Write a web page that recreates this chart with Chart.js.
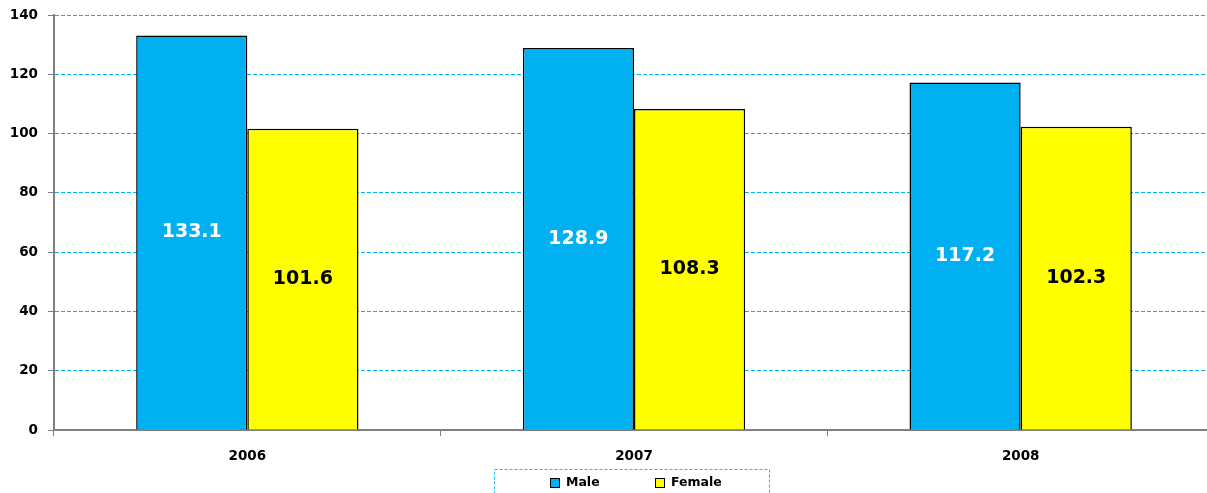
<!DOCTYPE html>
<html>
<head>
<meta charset="utf-8">
<script src="https://cdn.jsdelivr.net/npm/chart.js@4.4.0/dist/chart.umd.min.js"></script>
<style>
  html, body { margin: 0; padding: 0; background: #fff; overflow: hidden; }
  #wrap { width: 1207px; height: 493px; overflow: hidden; }
  #box { width: 1214px; height: 493px; }
</style>
</head>
<body>
<div id="wrap"><div id="box"><canvas id="rateChart"></canvas></div></div>
<script>
const years = ['2006', '2007', '2008'];
const maleValues = [133.1, 128.9, 117.2];
const femaleValues = [101.6, 108.3, 102.3];
const seriesNames = ['Male', 'Female'];

const FONT = 'DejaVu Sans';

// value labels in the middle of each bar
const barValueLabels = {
    id: 'barValueLabels',
    afterDatasetsDraw(chart) {
        const ctx = chart.ctx;
        ctx.save();
        ctx.font = 'bold 19px "' + FONT + '"';
        ctx.textAlign = 'center';
        ctx.textBaseline = 'middle';
        chart.data.datasets.forEach((ds, i) => {
            chart.getDatasetMeta(i).data.forEach((bar, j) => {
                const p = bar.getProps(['x', 'y', 'base'], true);
                ctx.fillStyle = i === 0 ? '#ffffff' : '#000000';
                ctx.fillText(ds.data[j].toFixed(1), p.x, (p.y + p.base) / 2);
            });
        });
        ctx.restore();
    }
};

// legend with a dashed frame, under the axis labels
const framedLegend = {
    id: 'framedLegend',
    afterDraw(chart) {
        const ctx = chart.ctx;
        const cx = (chart.chartArea.left + chart.chartArea.right) / 2 - 2;
        ctx.save();
        ctx.strokeStyle = '#1cb8f0';
        ctx.lineWidth = 1;
        ctx.setLineDash([3, 2]);
        ctx.strokeRect(cx - 137.5, 469.5, 275, 40);
        ctx.setLineDash([]);
        ctx.font = 'bold 12.5px "' + FONT + '"';
        ctx.textBaseline = 'middle';
        const offsets = [-82, 23];
        chart.data.datasets.forEach((ds, i) => {
            const x = Math.round(cx + offsets[i]);
            ctx.fillStyle = ds.backgroundColor;
            ctx.fillRect(x + 0.5, 478.5, 9, 9);
            ctx.strokeStyle = '#000';
            ctx.strokeRect(x + 0.5, 478.5, 9, 9);
            ctx.fillStyle = '#000';
            ctx.fillText(ds.label, x + 16, 483);
        });
        ctx.restore();
    }
};

const ctx = document.getElementById('rateChart').getContext('2d');
const rateChart = new Chart(ctx, {
    type: 'bar',
    data: {
        labels: years,
        datasets: [{
            label: seriesNames[0],
            data: maleValues,
            backgroundColor: '#00b0f0',
            borderColor: '#000000',
            borderWidth: 1.5
        },
        {
            label: seriesNames[1],
            data: femaleValues,
            backgroundColor: '#ffff00',
            borderColor: '#000000',
            borderWidth: 1.5
        }]
    },
    options: {
        responsive: true,
        maintainAspectRatio: false,
        animation: false,
        devicePixelRatio: 1,
        layout: { padding: { top: 15, left: 0, right: 0, bottom: 0 } },
        datasets: {
            bar: { barPercentage: 1.0, categoryPercentage: 0.575 }
        },
        plugins: {
            legend: { display: false },
            tooltip: { enabled: false }
        },
        scales: {
            x: {
                afterFit(scale) { scale.height = 63; },
                grid: {
                    drawOnChartArea: false,
                    color: '#808080',
                    tickColor: '#808080',
                    tickLength: 6,
                    lineWidth: 1
                },
                border: { color: '#808080', width: 2 },
                ticks: {
                    color: '#000',
                    padding: 12,
                    font: { family: FONT, size: 13.5, weight: 'bold' }
                }
            },
            y: {
                min: 0,
                max: 140,
                afterFit(scale) {
                    scale.width = 54;
                    scale.paddingTop = 0;
                    scale.paddingBottom = 0;
                },
                grid: {
                    color: '#00b4f4',
                    tickColor: '#808080',
                    tickLength: 6,
                    lineWidth: 1
                },
                border: { color: '#808080', width: 2, dash: [4, 2] },
                ticks: {
                    stepSize: 20,
                    color: '#000',
                    padding: 10,
                    font: { family: FONT, size: 13.5, weight: 'bold' }
                }
            }
        }
    },
    plugins: [barValueLabels, framedLegend]
});
</script>
</body>
</html>
